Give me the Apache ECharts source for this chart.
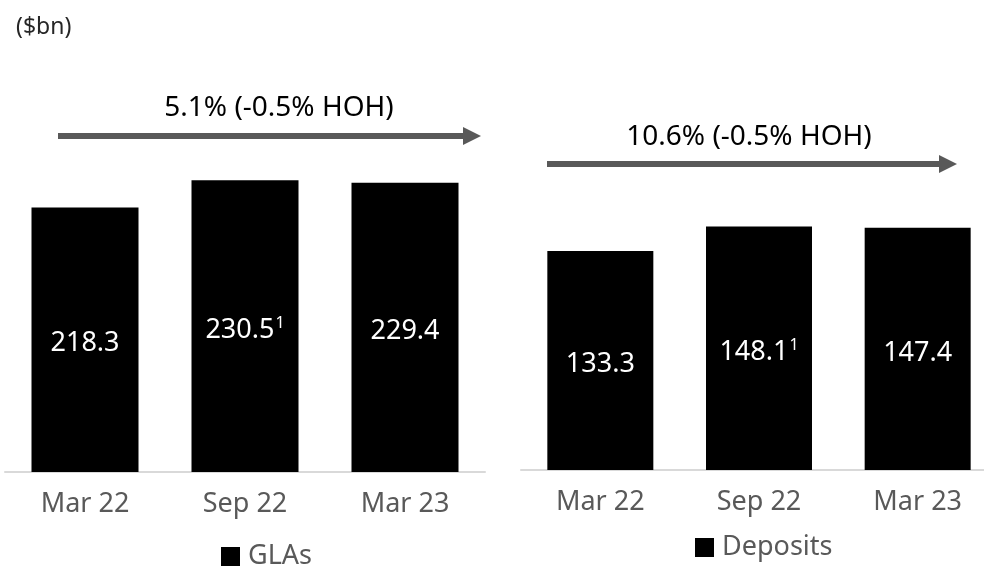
<!DOCTYPE html>
<html><head><meta charset="utf-8">
<script src="https://cdn.jsdelivr.net/npm/echarts@6/dist/echarts.min.js"></script>
<style>html,body{margin:0;padding:0;background:#fff}#c{width:984px;height:567px}</style>
</head><body><div id="c"></div>
<script>
const categories = ['Mar 22', 'Sep 22', 'Mar 23'];
const glaValues = [218.3, 230.5, 229.4];
const glaNotes = ['', '1', ''];
const depositValues = [133.3, 148.1, 147.4];
const depositNotes = ['', '1', ''];
const seriesNames = ['GLAs', 'Deposits'];
const growthLabels = ['5.1% (-0.5% HOH)', '10.6% (-0.5% HOH)'];
const unitLabel = '($bn)';

const FONT = 'Noto Sans';
const GREY = '#595959';

function labelFmt(notes) {
  return function (p) {
    const n = notes[p.dataIndex];
    return '{v|' + p.value + '}' + (n ? '{s|' + n + '}' : '');
  };
}
const labelRich = {
  v: { color: '#fff', fontSize: 27, fontFamily: FONT, lineHeight: 34 },
  s: { color: '#fff', fontSize: 16, fontFamily: FONT, lineHeight: 34, verticalAlign: 'top', padding: [2, 0, 12, 1] }
};

function arrow(x1, x2, y) {
  return [
    { type: 'line', shape: { x1: x1, y1: y, x2: x2 - 16, y2: y }, style: { stroke: GREY, lineWidth: 6 } },
    { type: 'polygon', shape: { points: [[x2 - 18, y - 9], [x2, y], [x2 - 18, y + 9]] }, style: { fill: GREY } }
  ];
}

const chart = echarts.init(document.getElementById('c'));
chart.setOption({
  animation: false,
  textStyle: { fontFamily: FONT },
  title: { text: unitLabel, left: 11, top: 11, textStyle: { fontSize: 23, fontWeight: 'normal', color: '#262626', fontFamily: FONT } },
  legend: [
    { data: [seriesNames[0]], left: 216, top: 538, itemWidth: 19, itemHeight: 19, icon: 'rect',
      textStyle: { fontSize: 27, color: GREY, fontFamily: FONT, padding: [0, 0, 0, 3] } },
    { data: [seriesNames[1]], left: 690, top: 529, itemWidth: 19, itemHeight: 19, icon: 'rect',
      textStyle: { fontSize: 27, color: GREY, fontFamily: FONT, padding: [0, 0, 0, 3] } }
  ],
  grid: [
    { left: 5, width: 480, top: 159, height: 313, outerBoundsMode: 'none' },
    { left: 521, width: 476, top: 207, height: 263, outerBoundsMode: 'none' }
  ],
  xAxis: [
    { type: 'category', gridIndex: 0, data: categories,
      axisLine: { lineStyle: { color: '#d9d9d9', width: 2 } }, axisTick: { show: false },
      axisLabel: { fontSize: 27, color: GREY, fontFamily: FONT, margin: 19 } },
    { type: 'category', gridIndex: 1, data: categories,
      axisLine: { lineStyle: { color: '#d9d9d9', width: 2 } }, axisTick: { show: false },
      axisLabel: { fontSize: 27, color: GREY, fontFamily: FONT, margin: 19 } }
  ],
  yAxis: [
    { type: 'value', gridIndex: 0, min: 100, max: 240, show: false, splitLine: { show: false } },
    { type: 'value', gridIndex: 1, min: 0, max: 160, show: false, splitLine: { show: false } }
  ],
  series: [
    { name: seriesNames[0], type: 'bar', xAxisIndex: 0, yAxisIndex: 0, data: glaValues, barWidth: 107,
      itemStyle: { color: '#000' },
      label: { show: true, position: 'inside', offset: [0, 4], formatter: labelFmt(glaNotes), rich: labelRich } },
    { name: seriesNames[1], type: 'bar', xAxisIndex: 1, yAxisIndex: 1, data: depositValues, barWidth: 106,
      itemStyle: { color: '#000' },
      label: { show: true, position: 'inside', offset: [0, 4], formatter: labelFmt(depositNotes), rich: labelRich } }
  ],
  graphic: [].concat(
    arrow(58, 481, 136),
    arrow(547, 957, 164),
    [
      { type: 'text', x: 279, y: 108, style: { text: growthLabels[0], fontSize: 28, fontFamily: FONT, fill: '#000', align: 'center', verticalAlign: 'middle' } },
      { type: 'text', x: 749, y: 137, style: { text: growthLabels[1], fontSize: 28, fontFamily: FONT, fill: '#000', align: 'center', verticalAlign: 'middle' } }
    ]
  )
});
</script></body></html>
